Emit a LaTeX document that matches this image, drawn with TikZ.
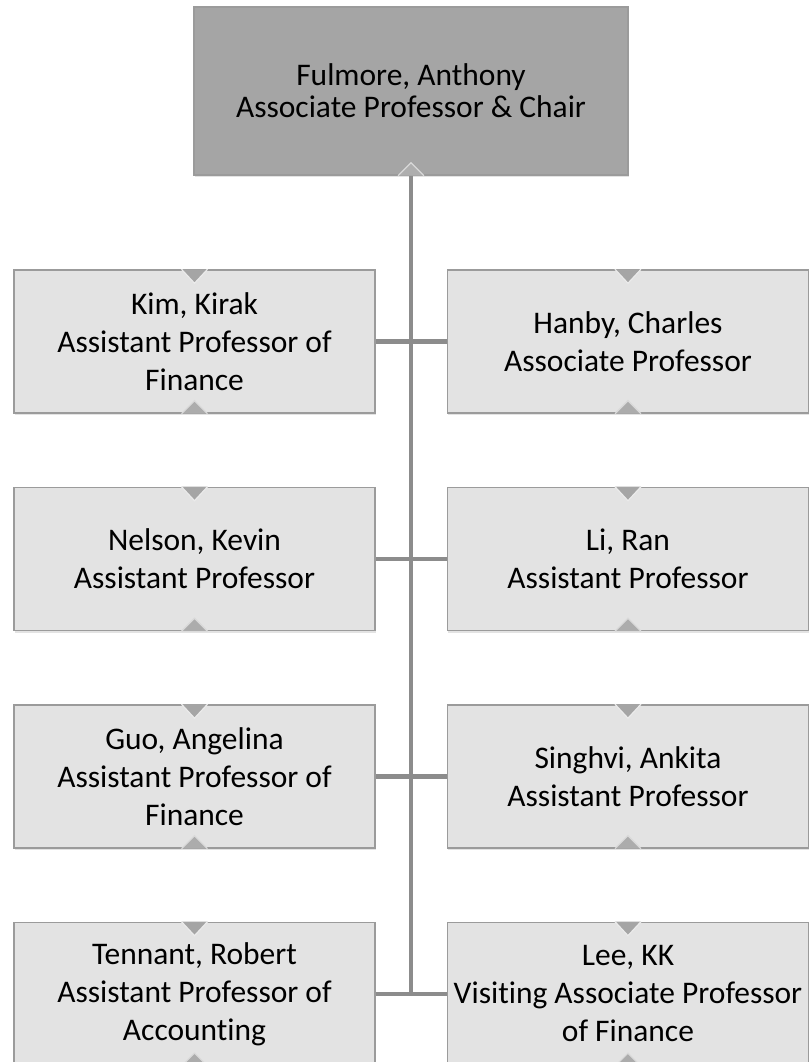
\documentclass[tikz,border=0pt]{standalone}
\usepackage{fontspec}
\setmainfont{Carlito}[Ligatures=NoCommon]
\usepackage{tikz}
\usetikzlibrary{calc}
\usetikzlibrary{positioning}
\usetikzlibrary{shadows}
\tikzset{every picture/.style={semithick}}
\definecolor{chairGray}{HTML}{A5A5A5}
\definecolor{boxGray}{HTML}{E3E3E3}
\definecolor{edgeGray}{HTML}{9B9B9B}
\definecolor{lineGray}{HTML}{8C8C8C}
\definecolor{tipGray}{HTML}{ACACAC}
\tikzset{
  staffbox/.style={draw=edgeGray, line width=1.1pt, fill=boxGray, minimum width=270.75pt, minimum height=107.25pt,
    inner sep=0pt, align=center, font=\fontsize{23.6}{28.5}\selectfont,
    drop shadow={shadow xshift=0.4pt, shadow yshift=-1.8pt, opacity=0.22}},
  chairbox/.style={staffbox, fill=chairGray, minimum width=325.5pt, minimum height=126pt,
    font=\fontsize{23.6}{24}\selectfont},
  link/.style={draw=lineGray, line width=3.3pt},
  tipdown/.style={fill=chairGray, draw=white!92!black, line width=0.9pt},
  tipup/.style={fill=tipGray, draw=white!85!black, line width=0.9pt}
}

\begin{document}
\begin{tikzpicture}[x=0.75pt, y=0.75pt]
    \useasboundingbox (0,0) rectangle (808,1062);
    \node[chairbox] (chair) at (411,971) {Fulmore, Anthony\\Associate Professor \& Chair};
    \node[staffbox] (kim) at (194.5,720.5) {Kim, Kirak\\Assistant Professor of\\Finance};
    \node[staffbox, right=53.25pt of kim] (hanby) {Hanby, Charles\\Associate Professor};
    \node[staffbox, below=54.75pt of kim] (nelson) {Nelson, Kevin\\Assistant Professor};
    \node[staffbox, right=53.25pt of nelson] (li) {Li, Ran\\Assistant Professor};
    \node[staffbox, below=54.75pt of nelson] (guo) {Guo, Angelina\\Assistant Professor of\\Finance};
    \node[staffbox, right=53.25pt of guo] (singhvi) {Singhvi, Ankita\\Assistant Professor};
    \node[staffbox, below=54.75pt of guo] (tennant) {Tennant, Robert\\Assistant Professor of\\Accounting};
    \node[staffbox, right=53.25pt of tennant] (lee) {Lee, KK\\Visiting Associate Professor\\of Finance};
    % connectors
    \coordinate (spine) at (chair.south |- tennant.east);
    \draw[link] (chair.south) -- (spine);
    \draw[link] (kim.east) -- (hanby.west);
    \draw[link] (nelson.east) -- (li.west);
    \draw[link] (guo.east) -- (singhvi.west);
    \draw[link] (tennant.east) -- (lee.west);
    % small notches on the boxes
    \foreach \n in {kim,hanby,nelson,li,guo,singhvi,tennant,lee} {
        \filldraw[tipdown, shift={(\n.north)}] (-13,0) -- (0,-14) -- (13,0);
        \filldraw[tipup, shift={(\n.south)}] (-13,0) -- (0,13) -- (13,0);
    }
    \filldraw[tipup, fill=chairGray!90!white, shift={(chair.south)}] (-13,0) -- (0,13) -- (13,0);
\end{tikzpicture}
\end{document}
